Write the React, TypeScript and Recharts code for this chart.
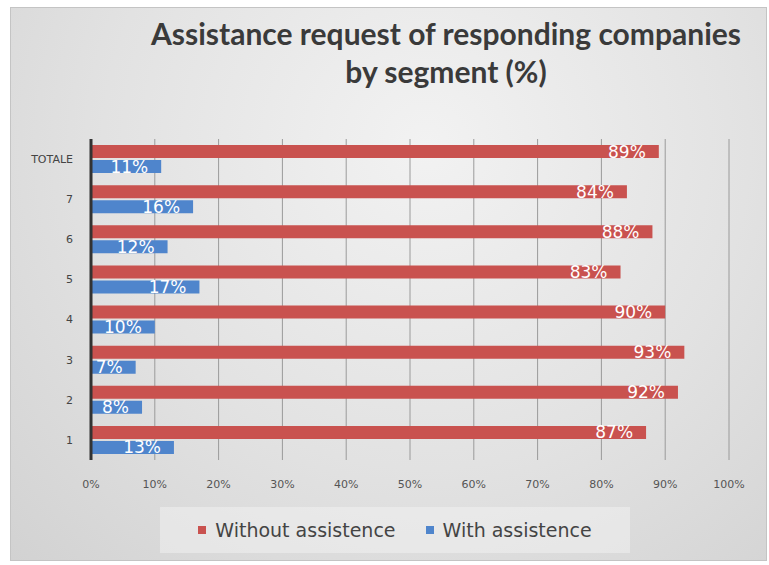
import { BarChart, Bar, XAxis, YAxis, CartesianGrid, LabelList } from 'recharts';

const categories = ['1', '2', '3', '4', '5', '6', '7', 'TOTALE'];
const withoutAssistance = [87, 92, 93, 90, 83, 88, 84, 89];
const withAssistance = [13, 8, 7, 10, 17, 12, 16, 11];
const xTicks = [0, 10, 20, 30, 40, 50, 60, 70, 80, 90, 100];

const RED = '#c9524f';
const BLUE = '#4f85cc';

// top of the chart is the last category, so build the rows reversed
const data = categories
  .map((name, i) => ({ name, without: withoutAssistance[i], with: withAssistance[i] }))
  .reverse();

const renderLabel = (props: any) => {
  const { x, y, width, height, value } = props;
  return (
    <text
      x={x + width - 13}
      y={y + height / 2}
      dy={6}
      textAnchor="end"
      fill="#ffffff"
      fontSize={17}
      fontFamily="DejaVu Sans"
    >
      {`${value}%`}
    </text>
  );
};

export default function App() {
  return (
    <div style={{ position: 'absolute', left: 0, top: 0, width: 769, height: 565, background: '#fff' }}>
      <div
        style={{
          position: 'absolute',
          left: 10,
          top: 7,
          width: 755,
          height: 552,
          border: '1px solid #c4c4c4',
          background: 'radial-gradient(ellipse at 55% 25%, #f2f2f2 0%, #e2e2e2 55%, #d2d2d2 100%)',
        }}
      />
      <div
        style={{
          position: 'absolute',
          left: 100,
          top: 14,
          width: 692,
          textAlign: 'center',
          fontFamily: 'Lato',
          fontWeight: 700,
          fontSize: 30,
          lineHeight: '38px',
          color: '#3a3a3a',
        }}
      >
        Assistance request of responding companies
        <br />
        by segment (%)
      </div>
      <div style={{ position: 'absolute', left: 0, top: 0 }}>
        <BarChart
          width={769}
          height={565}
          data={data}
          layout="vertical"
          margin={{ top: 139, right: 40, bottom: 75, left: 10 }}
          barSize={13}
          barGap={2}
        >
          <CartesianGrid horizontal={false} stroke="#9a9a9a" />
          <XAxis
            type="number"
            domain={[0, 100]}
            ticks={xTicks}
            tickFormatter={(v) => `${v}%`}
            axisLine={false}
            tickLine={false}
            tick={{ fontSize: 11, fill: '#555', fontFamily: 'DejaVu Sans' }}
            tickMargin={14}
            height={30}
          />
          <YAxis
            type="category"
            dataKey="name"
            width={81}
            axisLine={{ stroke: '#333', strokeWidth: 3 }}
            tickLine={false}
            tickMargin={12}
            tick={{ fontSize: 11, fill: '#444', fontFamily: 'DejaVu Sans' }}
          />
          <Bar dataKey="without" name="Without assistence" fill={RED} isAnimationActive={false}>
            <LabelList dataKey="without" content={renderLabel} />
          </Bar>
          <Bar dataKey="with" name="With assistence" fill={BLUE} isAnimationActive={false}>
            <LabelList dataKey="with" content={renderLabel} />
          </Bar>
        </BarChart>
      </div>
      <div
        style={{
          position: 'absolute',
          left: 160,
          top: 507,
          width: 470,
          height: 46,
          background: 'rgba(240,240,240,0.55)',
          display: 'flex',
          alignItems: 'center',
          justifyContent: 'center',
          fontFamily: 'DejaVu Sans',
          fontSize: 19,
          color: '#444',
        }}
      >
        <span style={{ display: 'inline-block', width: 8, height: 8, background: RED, marginRight: 9 }} />
        <span style={{ marginRight: 30 }}>Without assistence</span>
        <span style={{ display: 'inline-block', width: 8, height: 8, background: BLUE, marginRight: 9 }} />
        <span>With assistence</span>
      </div>
    </div>
  );
}
